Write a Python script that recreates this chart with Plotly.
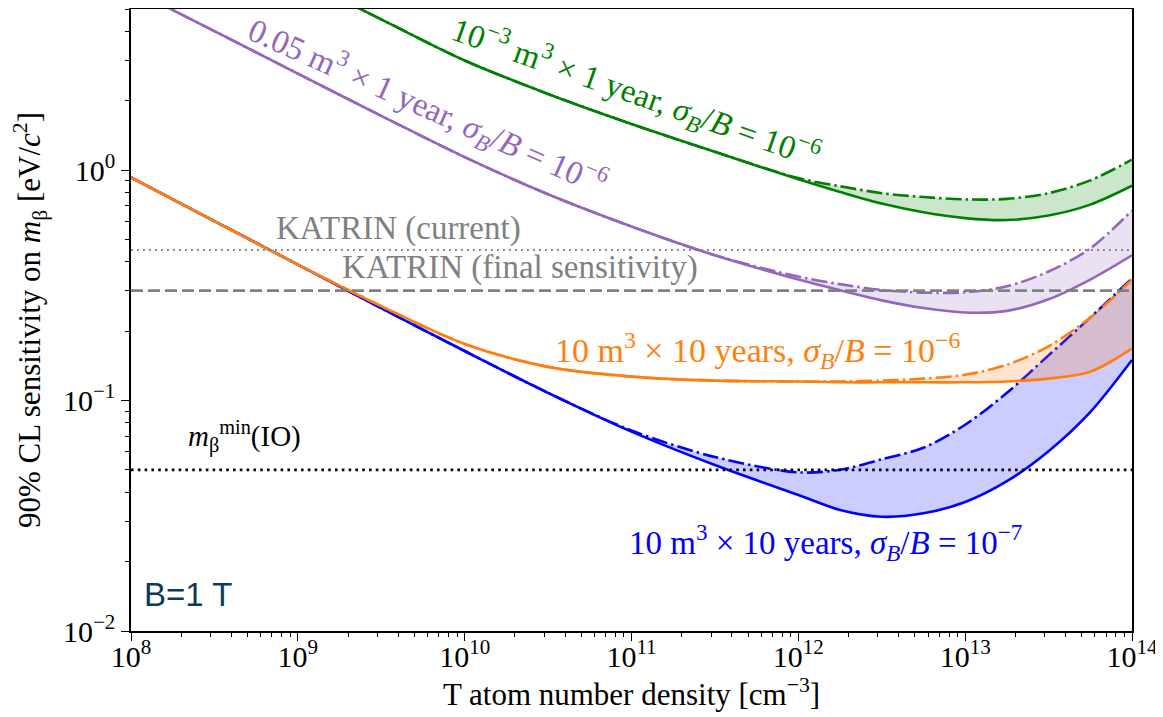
import plotly.graph_objects as go

# ---------------- data ----------------
density = [1e8, 3.16e8, 1e9, 3.16e9, 1e10, 3.16e10, 1e11, 3.16e11, 1e12,
           1.78e12, 3.16e12, 5.62e12, 1e13, 1.78e13, 3.16e13, 5.62e13, 1e14]

# 10 m^3 x 10 years, sigma_B/B = 1e-7 (blue)
blue_solid = [0.929, 0.601, 0.389, 0.252, 0.164, 0.108, 0.0733, 0.0525, 0.0389,
              0.0335, 0.0313, 0.0324, 0.0363, 0.0447, 0.0603, 0.0891, 0.150]
blue_dashdot = [0.929, 0.601, 0.389, 0.252, 0.164, 0.108, 0.0741, 0.0569, 0.0488,
                0.0501, 0.0556, 0.0624, 0.0785, 0.108, 0.157, 0.229, 0.339]

# 10 m^3 x 10 years, sigma_B/B = 1e-6 (orange)
orange_solid = [0.929, 0.601, 0.389, 0.257, 0.176, 0.140, 0.127, 0.122, 0.121,
                0.120, 0.120, 0.120, 0.120, 0.121, 0.1245, 0.1334, 0.168]
orange_dashdot = [0.929, 0.601, 0.389, 0.257, 0.176, 0.140, 0.127, 0.122, 0.121,
                  0.121, 0.122, 0.1245, 0.1294, 0.143, 0.172, 0.229, 0.335]

# 0.05 m^3 x 1 year, sigma_B/B = 1e-6 (purple)
purple_solid = [6.11, 4.01, 2.62, 1.72, 1.138, 0.785, 0.569, 0.427, 0.335,
                0.301, 0.272, 0.252, 0.241, 0.245, 0.275, 0.335, 0.427]
purple_dashdot = [6.11, 4.01, 2.62, 1.72, 1.138, 0.785, 0.569, 0.427, 0.345,
                  0.320, 0.302, 0.294, 0.295, 0.313, 0.363, 0.457, 0.668]

# 1e-3 m^3 x 1 year, sigma_B/B = 1e-6 (green) -- starts at 1e9
green_density = density[2:]
green_solid = [6.82, 4.51, 2.99, 2.14, 1.585, 1.20, 0.912,
               0.804, 0.716, 0.656, 0.619, 0.607, 0.635, 0.708, 0.855]
green_dashdot = [6.82, 4.51, 2.99, 2.14, 1.585, 1.20, 0.923,
                 0.851, 0.794, 0.764, 0.746, 0.750, 0.794, 0.902, 1.11]

# horizontal reference levels [eV]
katrin_current = 0.45
katrin_final = 0.30
mbeta_min_io = 0.05
x_span = [1e8, 1e14]

x_tick_vals = [1e8, 1e9, 1e10, 1e11, 1e12, 1e13, 1e14]
x_tick_text = ["10<sup>8</sup>", "10<sup>9</sup>", "10<sup>10</sup>", "10<sup>11</sup>",
               "10<sup>12</sup>", "10<sup>13</sup>", "10<sup>14</sup>"]
y_tick_vals = [0.01, 0.1, 1.0]
y_tick_text = ["10<sup>−2</sup>", "10<sup>−1</sup>", "10<sup>0</sup>"]

# ---------------- styles ----------------
BLUE = "#0000ff"
ORANGE = "#ff7f0e"
PURPLE = "#9467bd"
GREEN = "#008000"
GRAY = "#808080"
SERIF = "Liberation Serif, Times New Roman, serif"
LW = 2.6
DASHDOT = "16px,4px,2.5px,4px"

# the page body has an 8px margin: shrink the figure so the plot lands where the reference has it
OFF = 8
W, H = 1163 - OFF, 717 - OFF
ML, MR, MT, MB = 131 - OFF, 31, 9 - OFF, 86

fig = go.Figure()


def add_band(x, solid, dashdot, color, fill):
    fig.add_trace(go.Scatter(x=x, y=solid, mode="lines",
                             line=dict(color=color, width=LW, shape="spline", smoothing=0.9),
                             hoverinfo="skip", showlegend=False))
    fig.add_trace(go.Scatter(x=x, y=dashdot, mode="lines", fill="tonexty", fillcolor=fill,
                             line=dict(color=color, width=LW, dash=DASHDOT, shape="spline", smoothing=0.9),
                             hoverinfo="skip", showlegend=False))


add_band(density, blue_solid, blue_dashdot, BLUE, "rgba(0,0,255,0.2)")
add_band(density, orange_solid, orange_dashdot, ORANGE, "rgba(255,127,14,0.2)")
add_band(density, purple_solid, purple_dashdot, PURPLE, "rgba(148,103,189,0.2)")
add_band(green_density, green_solid, green_dashdot, GREEN, "rgba(0,128,0,0.2)")

fig.add_trace(go.Scatter(x=x_span, y=[katrin_current] * 2, mode="lines",
                         line=dict(color=GRAY, width=1.8, dash="1.8px,4.2px"),
                         hoverinfo="skip", showlegend=False))
fig.add_trace(go.Scatter(x=x_span, y=[katrin_final] * 2, mode="lines",
                         line=dict(color=GRAY, width=2.6, dash="12px,5px"),
                         hoverinfo="skip", showlegend=False))
fig.add_trace(go.Scatter(x=x_span, y=[mbeta_min_io] * 2, mode="lines",
                         line=dict(color="black", width=2.6, dash="2.6px,4.2px"),
                         hoverinfo="skip", showlegend=False))


# ---------------- annotations (positions given in page pixels) ----------------
def px(xp, yp):
    return (xp - OFF - ML) / (W - ML - MR), (H - MB - (yp - OFF)) / (H - MT - MB)


def note(xp, yp, text, color, size=33, angle=0, family=SERIF):
    xx, yy = px(xp, yp)
    fig.add_annotation(x=xx, y=yy, xref="paper", yref="paper", text=text,
                       showarrow=False, textangle=angle, xanchor="center", yanchor="middle",
                       font=dict(family=family, size=size, color=color))


sig = "<i>σ<sub>B</sub></i>/<i>B</i>"
note(427, 106, "0.05 m<sup>3</sup> × 1 year, " + sig + " = 10<sup>−6</sup>", PURPLE, angle=24)
note(635, 93, "10<sup>−3</sup> m<sup>3</sup> × 1 year, " + sig + " = 10<sup>−6</sup>", GREEN, angle=19.5)
note(398, 228, "KATRIN (current)", GRAY)
note(520, 268, "KATRIN (final sensitivity)", GRAY)
note(757, 350, "10 m<sup>3</sup> × 10 years, " + sig + " = 10<sup>−6</sup>", ORANGE, size=34)
note(244, 436, "<i>m</i><sub>β</sub><sup>min</sup>(IO)", "black", size=29)
note(825, 542, "10 m<sup>3</sup> × 10 years, " + sig + " = 10<sup>−7</sup>", BLUE)
note(188, 594, "B=1 T", "#0e3a5b", size=33, family="Liberation Sans, Arial, sans-serif")

# ---------------- axes ----------------
x_minor = [m * 10 ** e for e in range(8, 14) for m in range(2, 10)]
y_minor = [m * 10 ** e for e in range(-2, 1) for m in range(2, 10) if m * 10 ** e < 5.01]

axis_common = dict(showgrid=False, zeroline=False, showline=True, linecolor="black",
                   linewidth=1.5, mirror=True, ticks="outside", ticklen=8, tickwidth=1.3,
                   tickcolor="black", tickfont=dict(family=SERIF, size=30, color="black"))

fig.update_xaxes(type="log", range=[8, 14], tickmode="array", tickvals=x_tick_vals,
                 ticktext=x_tick_text, ticklabelstandoff=-10,
                 minor=dict(tickmode="array", tickvals=x_minor, ticks="outside", ticklen=4,
                            tickwidth=1, tickcolor="black"),
                 title=dict(text="T atom number density [cm<sup>−3</sup>]",
                            font=dict(family=SERIF, size=31, color="black"), standoff=4),
                 **axis_common)
fig.update_yaxes(type="log", range=[-2, 0.69897], tickmode="array", tickvals=y_tick_vals,
                 ticktext=y_tick_text,
                 minor=dict(tickmode="array", tickvals=y_minor, ticks="outside", ticklen=4,
                            tickwidth=1, tickcolor="black"),
                 title=dict(text="90% CL sensitivity on <i>m</i><sub>β</sub> [eV/<i>c</i><sup>2</sup>]",
                            font=dict(family=SERIF, size=31, color="black"), standoff=15),
                 **axis_common)

fig.update_layout(width=W, height=H, margin=dict(l=ML, r=MR, t=MT, b=MB, autoexpand=False),
                  plot_bgcolor="white", paper_bgcolor="white", showlegend=False)

fig.write_html("out.html")
